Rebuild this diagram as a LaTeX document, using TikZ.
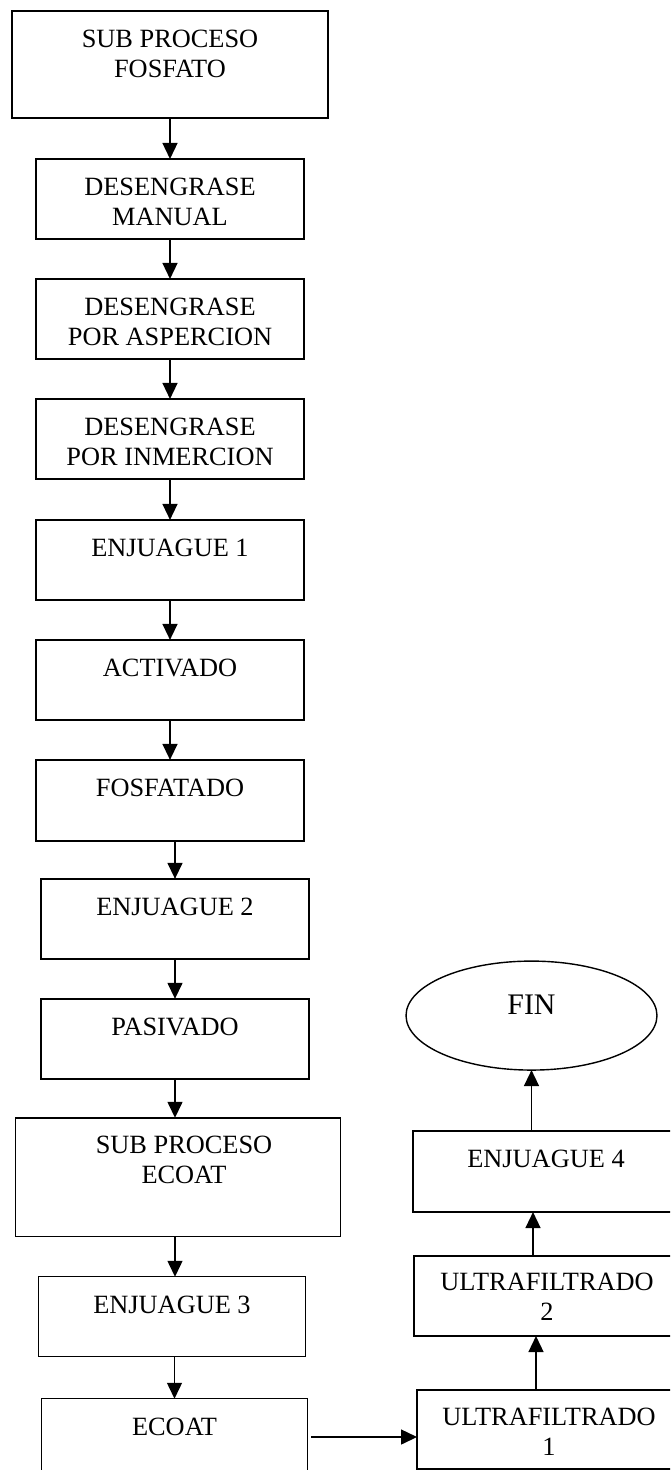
\documentclass[tikz,border=0pt]{standalone}
\usepackage{fontspec}
\setmainfont{Liberation Serif}
\usetikzlibrary{arrows.meta, positioning, shapes.geometric}
\newcommand{\rotfont}{\fontsize{15pt}{17pt}\selectfont}
\begin{document}
\begin{tikzpicture}[x=0.02cm, y=-0.02cm,
    etapa/.style={draw, line width=0.8pt, inner sep=0pt, outer sep=0pt, minimum width=5.36cm, minimum height=1.6cm},
    rotulo/.style={font=\rotfont, align=center, inner sep=0pt, anchor=north},
    flecha/.style={line width=0.8pt, -{Triangle[length=0.32cm, width=0.3cm]}}
  ]
  \useasboundingbox (0,0) rectangle (670,1470);
  \clip (0,0) rectangle (670,1470);

  \node[etapa, minimum width=6.32cm, minimum height=2.14cm] (fosfato) at (170,64.5) {};
  \node[rotulo] at ([yshift=-0.38cm]fosfato.north) {SUB PROCESO\\FOSFATO};

  \node[etapa, below=0.82cm of fosfato] (manual) {};
  \node[rotulo] at ([yshift=-0.38cm]manual.north) {DESENGRASE\\MANUAL};

  \node[etapa, below=0.8cm of manual] (aspercion) {};
  \node[rotulo] at ([yshift=-0.38cm]aspercion.north) {DESENGRASE\\POR ASPERCION};

  \node[etapa, below=0.8cm of aspercion] (inmercion) {};
  \node[rotulo] at ([yshift=-0.38cm]inmercion.north) {DESENGRASE\\POR INMERCION};

  \node[etapa, below=0.82cm of inmercion] (enjuague1) {};
  \node[rotulo] at ([yshift=-0.38cm]enjuague1.north) {ENJUAGUE 1};

  \node[etapa, below=0.8cm of enjuague1] (activado) {};
  \node[rotulo] at ([yshift=-0.38cm]activado.north) {ACTIVADO};

  \node[etapa, minimum height=1.62cm, below=0.8cm of activado] (fosfatado) {};
  \node[rotulo] at ([yshift=-0.38cm]fosfatado.north) {FOSFATADO};

  \node[etapa, below=0.76cm of fosfatado, xshift=0.1cm] (enjuague2) {};
  \node[rotulo] at ([yshift=-0.38cm]enjuague2.north) {ENJUAGUE 2};

  \node[etapa, below=0.8cm of enjuague2] (pasivado) {};
  \node[rotulo] at ([yshift=-0.38cm]pasivado.north) {PASIVADO};

  \node[etapa, minimum width=6.5cm, minimum height=2.38cm, below=0.78cm of pasivado, xshift=0.06cm] (subecoat) {};
  \node[rotulo] at ([xshift=0.12cm, yshift=-0.36cm]subecoat.north) {SUB PROCESO\\ECOAT};

  \node[etapa, minimum width=5.34cm, below=0.8cm of subecoat, xshift=-0.12cm] (enjuague3) {};
  \node[rotulo] at ([yshift=-0.38cm]enjuague3.north) {ENJUAGUE 3};

  \node[etapa, minimum width=5.32cm, minimum height=2cm, below=0.84cm of enjuague3, xshift=0.05cm] (ecoat) {};
  \node[rotulo] at ([yshift=-0.38cm]ecoat.north) {ECOAT};

  \node[etapa, minimum width=5.28cm, minimum height=1.58cm] (ultra1) at (549,1429.5) {};
  \node[rotulo] at ([yshift=-0.36cm]ultra1.north) {ULTRAFILTRADO\\1};

  \node[etapa, minimum width=5.32cm, above=1.08cm of ultra1, xshift=-0.04cm] (ultra2) {};
  \node[rotulo] at ([yshift=-0.34cm]ultra2.north) {ULTRAFILTRADO\\2};

  \node[etapa, minimum width=5.32cm, minimum height=1.62cm, above=0.88cm of ultra2, xshift=-0.02cm] (enjuague4) {};
  \node[rotulo] at ([yshift=-0.38cm]enjuague4.north) {ENJUAGUE 4};

  \node[draw, ellipse, line width=0.8pt, inner sep=0pt, outer sep=0pt, minimum width=5.02cm, minimum height=2.18cm, above=1.22cm of enjuague4, xshift=-0.29cm] (fin) {};
  \node[rotulo, font=\fontsize{17pt}{19pt}\selectfont] at ([yshift=-0.66cm]fin.north) {FIN};

  \draw[flecha] (manual.north |- fosfato.south) -- (manual.north);
  \draw[flecha] (aspercion.north |- manual.south) -- (aspercion.north);
  \draw[flecha] (inmercion.north |- aspercion.south) -- (inmercion.north);
  \draw[flecha] (enjuague1.north |- inmercion.south) -- (enjuague1.north);
  \draw[flecha] (activado.north |- enjuague1.south) -- (activado.north);
  \draw[flecha] (fosfatado.north |- activado.south) -- (fosfatado.north);
  \draw[flecha] (enjuague2.north |- fosfatado.south) -- (enjuague2.north);
  \draw[flecha] (pasivado.north |- enjuague2.south) -- (pasivado.north);
  \draw[flecha] (pasivado.south) -- (pasivado.south |- subecoat.north);
  \draw[flecha] ([xshift=0.06cm]enjuague3.north |- subecoat.south) -- ([xshift=0.06cm]enjuague3.north);
  \draw[flecha] (ecoat.north |- enjuague3.south) -- (ecoat.north);
  \draw[flecha] ([xshift=0.08cm, yshift=-0.15cm]ecoat.east |- ultra1.west) -- ([yshift=-0.15cm]ultra1.west);
  \draw[flecha] ([xshift=0.09cm]ultra1.north -| fin.south) -- ([xshift=0.09cm]ultra2.south -| fin.south);
  \draw[flecha] ([xshift=0.03cm]ultra2.north -| fin.south) -- ([xshift=0.03cm]enjuague4.south -| fin.south);
  \draw[flecha] (enjuague4.north -| fin.south) -- (fin.south);
\end{tikzpicture}
\end{document}
